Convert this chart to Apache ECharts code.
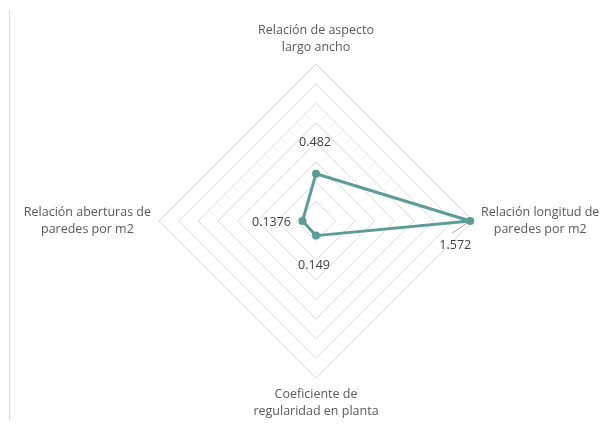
<!DOCTYPE html>
<html>
<head>
<meta charset="utf-8">
<script src="https://cdn.jsdelivr.net/npm/echarts@6/dist/echarts.min.js"></script>
<style>
  html, body { margin: 0; padding: 0; background: #fff; }
  #chart { width: 602px; height: 430px; }
</style>
</head>
<body>
<div id="chart"></div>
<script>
// indicators in ECharts order (top, left, bottom, right)
const indicatorNames = [
  'Relación de aspecto\nlargo ancho',
  'Relación aberturas de\nparedes por m2',
  'Coeficiente de\nregularidad en planta',
  'Relación longitud de\nparedes por m2'
];
const values = [0.482, 0.1376, 0.149, 1.572];
const axisMax = 1.6;
const ringCount = 8;
// label offsets per vertex, relative to the point
const labelOffsets = [[-1, -31], [-31, 1], [-2, 30], [-15, 24]];

const font = 'Open Sans';
const center = [316, 221];
const radius = 157;

const chart = echarts.init(document.getElementById('chart'));

const labelSeries = values.map((v, k) => ({
  type: 'radar',
  silent: true,
  symbol: 'circle',
  symbolSize: 1,
  itemStyle: { color: 'transparent' },
  lineStyle: { width: 0, opacity: 0 },
  label: {
    show: true,
    position: 'inside',
    offset: labelOffsets[k],
    color: '#404040',
    fontFamily: font,
    fontSize: 12.5,
    formatter: function (p) {
      return p.dimensionIndex === k ? String(values[k]) : '';
    }
  },
  data: [{ value: values }]
}));

// leader line for the right-hand label, placed from the radar geometry
const rightPt = [center[0] + radius * values[3] / axisMax, center[1]];

chart.setOption({
  animation: false,
  graphic: [
    {
      type: 'line',
      shape: { x1: 9.5, y1: 10, x2: 9.5, y2: 420 },
      style: { stroke: '#d9d9d9', lineWidth: 1 }
    },
    {
      type: 'line',
      shape: { x1: rightPt[0] - 18, y1: rightPt[1] + 12, x2: rightPt[0] - 3, y2: rightPt[1] + 2 },
      style: { stroke: '#a6a6a6', lineWidth: 1 }
    }
  ],
  radar: {
    center: center,
    radius: radius,
    startAngle: 90,
    shape: 'polygon',
    splitNumber: ringCount,
    nameGap: 8,
    indicator: indicatorNames.map(n => ({ name: n, min: 0, max: axisMax })),
    axisName: {
      color: '#595959',
      fontFamily: font,
      fontSize: 12.5,
      lineHeight: 17,
      formatter: function (name) {
        return name.split('\n').map(s => '{c|' + s + '}').join('\n');
      },
      rich: {
        c: { align: 'center', fontFamily: font, fontSize: 12.5, lineHeight: 17, color: '#595959' }
      }
    },
    axisLine: { show: false },
    axisTick: { show: false },
    axisLabel: { show: false },
    splitArea: { show: false },
    splitLine: { lineStyle: { color: '#d9d9d9', width: 1 } }
  },
  series: [
    {
      type: 'radar',
      symbol: 'circle',
      symbolSize: 8,
      itemStyle: { color: '#5b9e97' },
      lineStyle: { color: '#5b9e97', width: 3 },
      data: [{ value: values }]
    }
  ].concat(labelSeries)
});
</script>
</body>
</html>
